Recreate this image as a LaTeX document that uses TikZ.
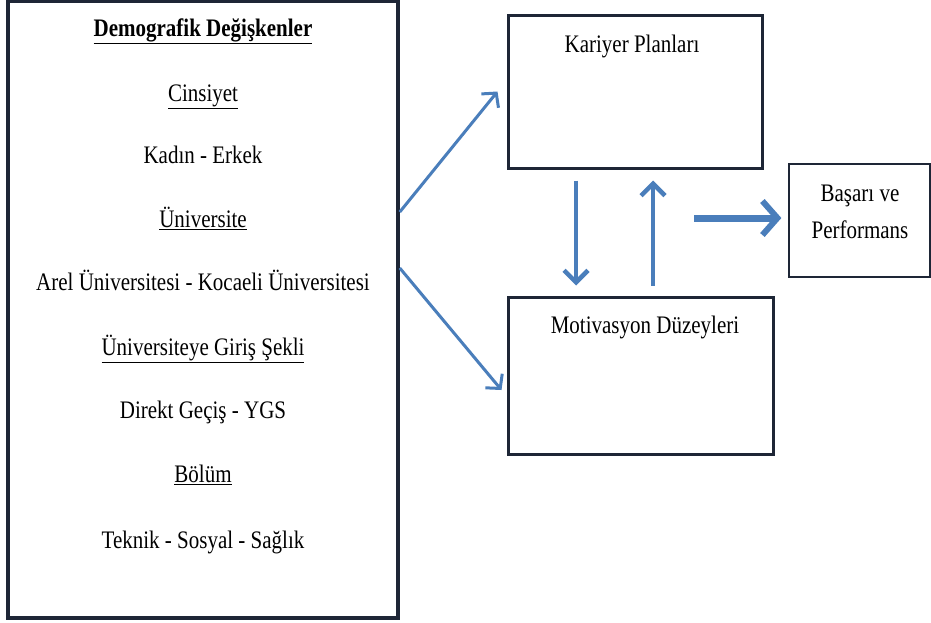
\documentclass[tikz,border=0pt]{standalone}
\usepackage{fontspec}
\setmainfont{Liberation Serif}
\usetikzlibrary{arrows.meta}
\definecolor{arrowblue}{HTML}{4A7EBB}
\definecolor{boxline}{HTML}{1E2636}
\newcommand\tallt[1]{\scalebox{1}[1.2]{#1}}
\tikzset{
  box/.style={draw=boxline, fill=white, inner sep=0pt},
  txt/.style={font=\fontsize{21}{25}\selectfont, inner sep=0pt, anchor=base},
  thinarrow/.style={draw=arrowblue, line width=3pt, line join=round,
    -{Straight Barb[length=10pt, width=22pt, line width=3pt]}},
  midarrow/.style={draw=arrowblue, line width=4.5pt, line join=round,
    -{Straight Barb[length=12pt, width=24pt, line width=4.5pt]}},
  bigarrow/.style={draw=arrowblue, line width=7pt, line join=round,
    -{Straight Barb[length=15pt, width=34pt, line width=6pt]}},
}
\begin{document}
\begin{tikzpicture}[x=1pt, y=-1pt]
\useasboundingbox (0,0) rectangle (931,622);
\fill[white] (0,0) rectangle (931,622);
% boxes
\node[box, line width=3.5pt, minimum width=390pt, minimum height=617pt] (demo) at (203,309.5) {};
\node[box, line width=3pt, minimum width=254pt, minimum height=153pt] (kariyer) at (635,91.5) {};
\node[box, line width=3pt, minimum width=265pt, minimum height=157pt] (motiv) at (640.5,375.5) {};
\node[box, line width=1.2pt, minimum width=141pt, minimum height=113pt] (basari) at (859.5,220.5) {};
% left box text
\node[txt] (t1) at (203,36) {\tallt{\bfseries\underline{Demografik Değişkenler}}};
\node[txt] (t2) at (203,101) {\tallt{\underline{Cinsiyet}}};
\node[txt] (t3) at (203,163) {\tallt{Kadın - Erkek}};
\node[txt] (t4) at (203,227) {\tallt{\underline{Üniversite}}};
\node[txt] (t5) at (203,290) {\tallt{Arel Üniversitesi - Kocaeli Üniversitesi}};
\node[txt] (t6) at (203,355) {\tallt{\underline{Üniversiteye Giriş Şekli}}};
\node[txt] (t7) at (203,418) {\tallt{Direkt Geçiş - YGS}};
\node[txt] (t8) at (203,482) {\tallt{\underline{Bölüm}}};
\node[txt] (t9) at (203,548) {\tallt{Teknik - Sosyal - Sağlık}};
% right texts
\node[txt] (kt) at (632,52) {\tallt{Kariyer Planları}};
\node[txt] (mt) at (645,333) {\tallt{Motivasyon Düzeyleri}};
\node[txt] (bt1) at (860,201) {\tallt{Başarı ve}};
\node[txt] (bt2) at (860,238) {\tallt{Performans}};
% arrows
\draw[thinarrow] ([yshift=97.5pt]demo.east) -- ([xshift=-9pt]kariyer.west);
\draw[thinarrow] ([yshift=41.5pt]demo.east) -- ([xshift=-5pt,yshift=-14.5pt]motiv.west);
\draw[midarrow] ([xshift=-59pt,yshift=-11pt]kariyer.south) -- ([xshift=-64.5pt,yshift=10pt]motiv.north);
\draw[midarrow] ([xshift=12.5pt,yshift=10pt]motiv.north) -- ([xshift=18pt,yshift=-11pt]kariyer.south);
\draw[bigarrow] ([xshift=-94pt,yshift=2.5pt]basari.west) -- ([xshift=-7pt,yshift=2.5pt]basari.west);
\end{tikzpicture}
\end{document}
